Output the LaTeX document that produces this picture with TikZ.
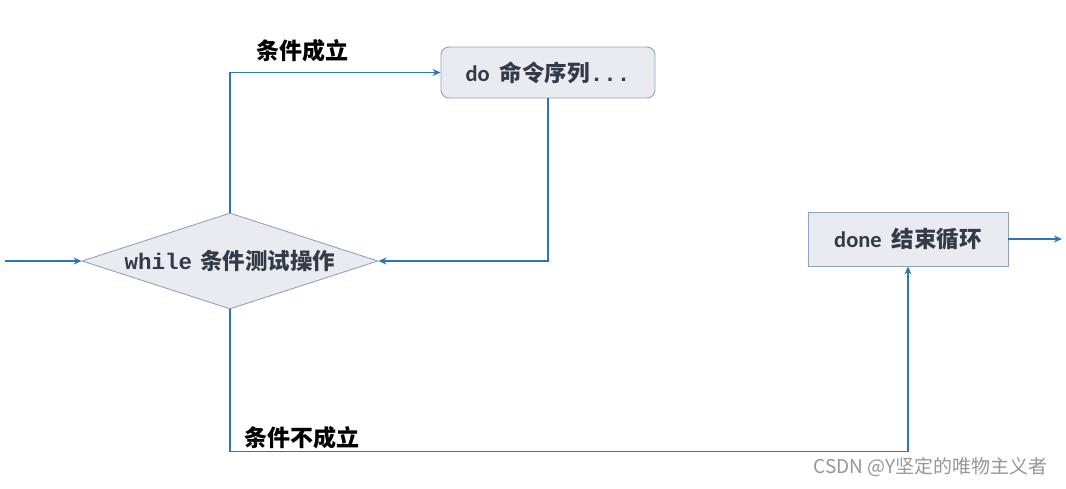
\documentclass[tikz,border=0pt]{standalone}
\usepackage{fontspec}
\setsansfont{Carlito}
\setmonofont{Liberation Mono}
\newfontfamily\cjk{Noto Sans CJK SC}
\usetikzlibrary{arrows.meta, positioning, shapes.geometric}
\definecolor{flow}{RGB}{46,117,182}
\definecolor{boxfill}{RGB}{233,235,240}
\definecolor{boxline}{RGB}{143,163,191}
\definecolor{ink}{RGB}{52,58,72}
\definecolor{mark}{RGB}{150,150,150}

\tikzset{
  flowline/.style={flow, line width=1.2pt},
  flowarrow/.style={flowline, -{Stealth[length=8pt,width=7pt]}},
  cmdbox/.style={draw=boxline, fill=boxfill, line width=0.9pt, text=ink,
    font=\fontsize{22.5}{26}\selectfont\bfseries},
  testbox/.style={cmdbox, diamond, aspect=3.08, inner sep=0pt,
    minimum width=296pt, minimum height=96pt},
  condlabel/.style={font=\cjk\fontsize{23}{27}\selectfont\bfseries, text=black},
}

\begin{document}
\begin{tikzpicture}[x=1pt, y=-1pt]
  \useasboundingbox (0,0) rectangle (1066,488);
  % Loop nodes
  \node[testbox] (test) at (230,261) {{\ttfamily while}\ {\cjk 条件测试操作}};
  \node[cmdbox, rounded corners=8pt, minimum width=214pt, minimum height=51pt]
    (do) at (548,72.5) {{\sffamily do}\hspace{10pt}{\cjk 命令序列}{\ttfamily...}};
  \node[cmdbox, minimum width=200pt, minimum height=54pt]
    (done) at (908,239) {{\sffamily done}\hspace{10pt}{\cjk 结束循环}};
  \coordinate (start) at (5,261);
  \coordinate (exit) at (1062,239);
  % Connectors
  \draw[flowarrow] (start) -- (test.west);
  \draw[flowarrow] (test.north) |- (do.west);
  \draw[flowarrow] (do.south) |- (test.east);
  \draw[flowarrow] (test.south) -- ++(0,142) -| (done.south);
  \draw[flowarrow] (done.east) -- (exit);
  % Branch labels
  \node[condlabel] (yes) at (302,51) {条件成立};
  \node[condlabel] (no) at (302,438) {条件不成立};
  \node[font=\cjk\fontsize{19}{22}\selectfont, text=mark, anchor=east]
    (mark) at (1051,467) {CSDN @Y坚定的唯物主义者};
\end{tikzpicture}
\end{document}
